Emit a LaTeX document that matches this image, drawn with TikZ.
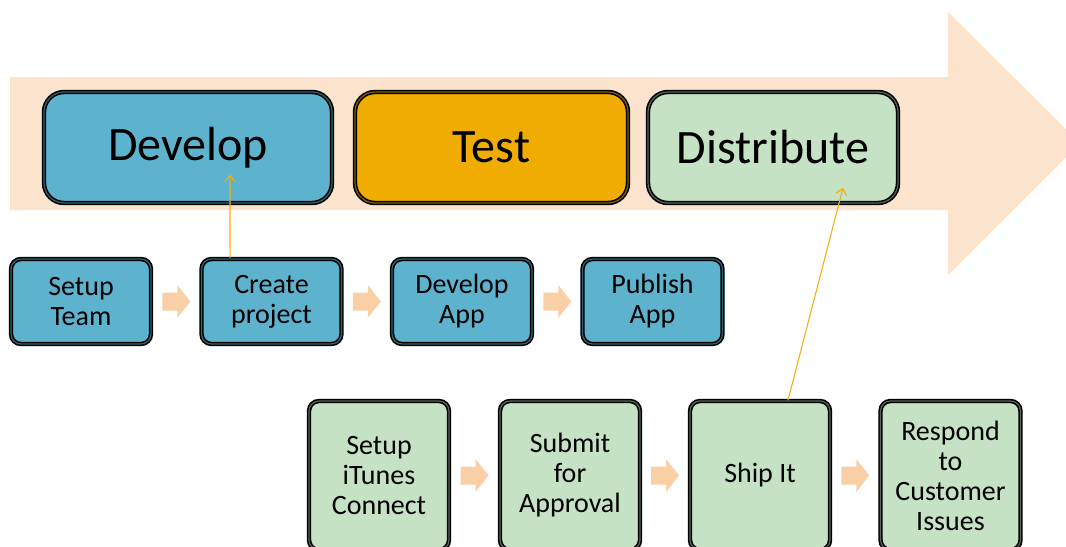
\documentclass[tikz,border=0pt]{standalone}
\usepackage{fontspec}
\setmainfont{Carlito}
\usetikzlibrary{arrows.meta,calc}
\definecolor{bandC}{HTML}{FBE3CD}
\definecolor{smallarrC}{HTML}{F9CFA6}
\definecolor{blueC}{HTML}{5DB3CE}
\definecolor{testC}{HTML}{F0AC00}
\definecolor{greenC}{HTML}{C5E2C5}
\definecolor{linkC}{HTML}{F2AE10}
\begin{document}
\begin{tikzpicture}[x=0.75pt,y=-0.75pt,
  boxbase/.style={draw=black, line width=1.2pt, double distance=0.9pt, inner sep=0pt, align=center, text=black},
  bigbox/.style={boxbase, rounded corners=15pt, minimum height=83.25pt, font=\fontsize{36}{40}\selectfont},
  smallbox/.style={boxbase, rounded corners=7.5pt, minimum width=105pt, font=\fontsize{21}{22.5}\selectfont},
  midbox/.style={smallbox, minimum height=63.75pt},
  lowbox/.style={smallbox, minimum height=111.75pt},
  bluefill/.style={fill=blueC, double=blueC!55!black},
  testfill/.style={fill=testC, double=testC!55!black},
  greenfill/.style={fill=greenC, double=greenC!45!black},
  blockarr/.pic={\fill[smallarrC] (-14,-9) -- (1,-9) -- (1,-16.5) -- (14,0) -- (1,16.5) -- (1,9) -- (-14,9) -- cycle;},
  link/.style={draw=linkC, line width=0.8pt, -{Straight Barb[length=4.5pt,width=8pt]}}
]
\useasboundingbox (0,0) rectangle (1066,546);
\clip (0,0) rectangle (1066,546);
% big band arrow
\fill[bandC] (10,77) -- (948,77) -- (948,12) -- (1080,143.5) -- (948,275) -- (948,210) -- (10,210) -- cycle;
% top phases
\node[bigbox, bluefill, minimum width=216pt] (develop) at (188,147.5) {Develop};
\node[bigbox, testfill, minimum width=204.75pt] (test) at (491.5,147.5) {Test};
\node[bigbox, greenfill, minimum width=187.5pt] (distribute) at (773,147.5) {Distribute};
% middle row
\node[midbox, bluefill] (team) at (81,301.5) {Setup\\Team};
\node[midbox, bluefill] (create) at (271.5,301.5) {Create\\project};
\node[midbox, bluefill] (devapp) at (462,301.5) {Develop\\App};
\node[midbox, bluefill] (publish) at (652.5,301.5) {Publish\\App};
\pic at ($(team.east)!0.5!(create.west)$) {blockarr};
\pic at ($(create.east)!0.5!(devapp.west)$) {blockarr};
\pic at ($(devapp.east)!0.5!(publish.west)$) {blockarr};
% bottom row
\node[lowbox, greenfill] (itunes) at (379,475.5) {Setup\\iTunes\\Connect};
\node[lowbox, greenfill] (submit) at (570,475.5) {Submit\\for\\Approval};
\node[lowbox, greenfill] (ship) at (760,475.5) {Ship It};
\node[lowbox, greenfill] (respond) at (950.5,475.5) {Respond\\to\\Customer\\Issues};
\pic at ($(itunes.east)!0.5!(submit.west)$) {blockarr};
\pic at ($(submit.east)!0.5!(ship.west)$) {blockarr};
\pic at ($(ship.east)!0.5!(respond.west)$) {blockarr};
% links
\coordinate (l1s) at ([xshift=-31.1pt]create.north);
\coordinate (l1e) at ([xshift=31.5pt,yshift=21.75pt]develop.south);
\coordinate (l2s) at ([xshift=21pt]ship.north);
\coordinate (l2e) at ([xshift=52.5pt,yshift=12pt]distribute.south);
\draw[link] (l1s) -- (l1e);
\draw[link] (l2s) -- (l2e);
\end{tikzpicture}
\end{document}
